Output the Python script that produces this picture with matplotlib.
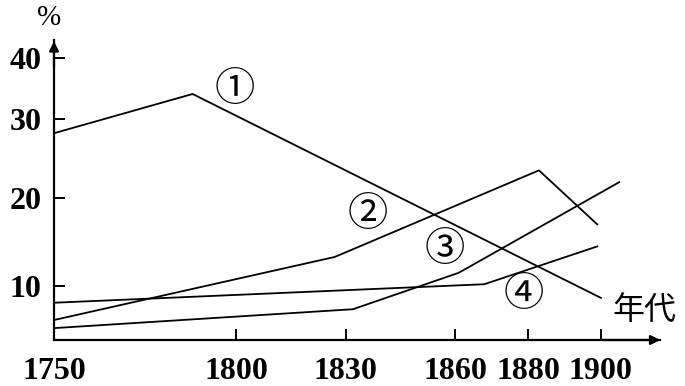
import numpy as np
import matplotlib
matplotlib.use("Agg")
import matplotlib.pyplot as plt

# data (year, percent)
years_1 = [1750, 1788, 1900]
vals_1 = [28.2, 34.1, 7.8]
years_2 = [1750, 1827, 1883, 1899]
vals_2 = [3.7, 13.3, 23.5, 17.0]
years_3 = [1750, 1832, 1861, 1905]
vals_3 = [2.2, 5.7, 11.5, 22.0]
years_4 = [1750, 1868, 1899]
vals_4 = [6.9, 10.2, 14.5]

x_ticks = [1750, 1800, 1830, 1860, 1880, 1900]
y_ticks = [10, 20, 30, 40]
labels = ["①", "②", "③", "④"]
label_pos = [(1799.6, 34.8), (1836.1, 18.1), (1857.2, 14.1), (1878.9, 8.5)]

# the original drawing is not to scale on the y axis: piecewise mapping
knot_v = np.array([0, 10, 20, 30, 40, 50])
knot_h = np.array([0, 54, 142, 221, 282, 343])


def fwd(v):
    return np.interp(v, knot_v, knot_h)


def inv(h):
    return np.interp(h, knot_h, knot_v)


fig = plt.figure(figsize=(6.85, 3.86), dpi=100)
ax = fig.add_axes([54 / 685, 46 / 386, 606 / 685, 300 / 386])
ax.set_yscale("function", functions=(fwd, inv))

for xs, ys in [(years_1, vals_1), (years_2, vals_2), (years_3, vals_3), (years_4, vals_4)]:
    ax.plot(xs, ys, color="black", lw=1.3)

ax.set_xlim(1750, 1916.2)
ax.set_ylim(0, inv(300))

for s in ["top", "right"]:
    ax.spines[s].set_visible(False)
for s in ["left", "bottom"]:
    ax.spines[s].set_linewidth(1.6)

ax.annotate("", xy=(0, 1.005), xytext=(0, 0.9), xycoords="axes fraction",
            arrowprops=dict(arrowstyle="-|>", lw=1.6, color="black", mutation_scale=14))
ax.annotate("", xy=(1.005, 0), xytext=(0.9, 0), xycoords="axes fraction",
            arrowprops=dict(arrowstyle="-|>", lw=1.6, color="black", mutation_scale=14))

ax.set_xticks(x_ticks)
ax.set_xticklabels([str(t) for t in x_ticks])
ax.set_yticks(y_ticks)
ax.set_yticklabels([str(t) for t in y_ticks])
ax.minorticks_off()
ax.tick_params(axis="both", direction="in", length=8, width=1.4)
ax.tick_params(axis="x", pad=12)
ax.tick_params(axis="y", pad=9)
for lab in ax.get_xticklabels() + ax.get_yticklabels():
    lab.set_fontfamily("Liberation Serif")
    lab.set_fontsize(23)
    lab.set_fontweight("bold")

for lab, (x, y) in zip(labels, label_pos):
    ax.text(x, y, lab, fontsize=29, ha="center", va="center",
            family=["Noto Sans CJK SC", "DejaVu Sans"])

ax.text(1912, 5.3, "年代", fontsize=23, ha="center", va="center",
        family=["Noto Sans CJK SC", "DejaVu Sans"], clip_on=False)
fig.text(49 / 685, 1 - 18 / 386, "%", fontsize=21, ha="center", va="center",
         family="Liberation Serif")

fig.savefig("out.png", dpi=100)
